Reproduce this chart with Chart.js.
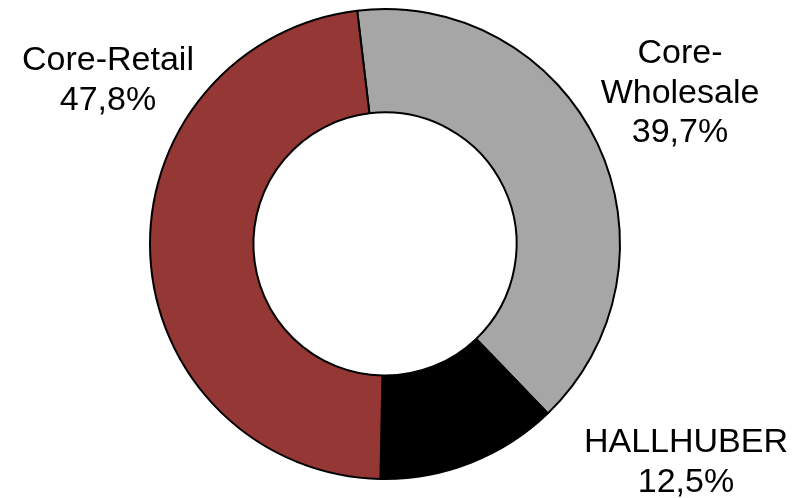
<!DOCTYPE html>
<html>
<head>
<meta charset="utf-8">
<script src="https://cdn.jsdelivr.net/npm/chart.js@4"></script>
<style>
    html, body { margin: 0; padding: 0; background: #fff; }
    #wrap { width: 803px; height: 498px; position: relative; }
</style>
</head>
<body>
<div id="wrap"><canvas id="donut"></canvas></div>
<script>
// --- DATA ---
const categories = ['Core-Wholesale', 'HALLHUBER', 'Core-Retail'];
const shares = [39.7, 12.5, 47.8];
const colors = ['#A6A6A6', '#000000', '#953735'];

// label lines + anchor (center x, first baseline y)
const labelLines = [['Core-', 'Wholesale'], ['HALLHUBER'], ['Core-Retail']];
const labelAnchors = [[680, 63], [686, 452], [108, 70]];

const fmtPct = (v) => v.toFixed(1).replace('.', ',') + '%';

// --- LABEL PLUGIN ---
const outsideLabels = {
    id: 'outsideLabels',
    afterDraw(chart) {
        const ctx = chart.ctx;
        ctx.save();
        ctx.font = '34px "Liberation Sans", Arial, sans-serif';
        ctx.fillStyle = '#000';
        ctx.textAlign = 'center';
        ctx.textBaseline = 'alphabetic';
        categories.forEach((c, i) => {
            const lines = labelLines[i].concat([fmtPct(shares[i])]);
            const [x, y] = labelAnchors[i];
            lines.forEach((t, j) => ctx.fillText(t, x, y + j * 39.5));
        });
        ctx.restore();
    }
};

// --- CHART ---
new Chart(document.getElementById('donut'), {
    type: 'doughnut',
    data: {
        labels: categories,
        datasets: [{
            data: shares,
            backgroundColor: colors,
            borderColor: '#000',
            borderWidth: 2
        }]
    },
    options: {
        responsive: true,
        maintainAspectRatio: false,
        animation: false,
        rotation: -6.8,
        cutout: '56%',
        layout: { padding: { left: 149, right: 182, top: 8, bottom: 18 } },
        plugins: { legend: { display: false }, tooltip: { enabled: false } }
    },
    plugins: [outsideLabels]
});
</script>
</body>
</html>
